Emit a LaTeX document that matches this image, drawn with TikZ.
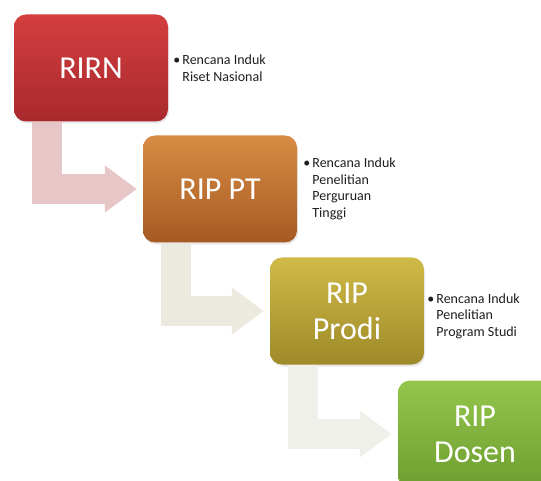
\documentclass[tikz,border=0pt]{standalone}
\usepackage{fontspec}
\setmainfont{Carlito}
\usetikzlibrary{arrows.meta,positioning,calc,shadows}
\definecolor{Ink}{HTML}{1E1E1E}
\definecolor{RedTop}{HTML}{D43E3F}
\definecolor{RedBot}{HTML}{A8292D}
\definecolor{OrgTop}{HTML}{D88C44}
\definecolor{OrgBot}{HTML}{A65A22}
\definecolor{OliTop}{HTML}{CFBA48}
\definecolor{OliBot}{HTML}{9E8A28}
\definecolor{GrnTop}{HTML}{94C64C}
\definecolor{GrnBot}{HTML}{6E9E30}
\definecolor{PinkArr}{HTML}{E7C6C8}
\definecolor{SandArr}{HTML}{ECE9DF}
\definecolor{PaleArr}{HTML}{F0F0EA}
\newcommand{\notebul}{\makebox[9pt][l]{\textbullet}}
\newcommand{\noteind}{\hspace*{9pt}}
\tikzset{
 every node/.style={text=Ink},
 stage/.style={rounded corners=12pt,minimum width=154pt,minimum height=107pt,align=center,
  text=white,font=\fontsize{32}{36}\selectfont,
  drop shadow={opacity=.18,shadow xshift=1pt,shadow yshift=-2pt}},
 note/.style={align=left,font=\fontsize{14}{16.5}\selectfont,inner sep=0pt},
 flow/.style={line width=30pt,-{Triangle[length=32pt,width=45pt]},shorten >=6pt},
}
\begin{document}
\begin{tikzpicture}[x=1pt,y=-1pt]
 \useasboundingbox (0,0) rectangle (541,481);
 \clip (0,0) rectangle (541,481);
 \node[stage,top color=RedTop,bottom color=RedBot](rirn)at(91,68){RIRN};
 \node[stage,top color=OrgTop,bottom color=OrgBot](ript)at(220,189){RIP PT};
 \node[stage,top color=OliTop,bottom color=OliBot](ripprodi)at(347,311){RIP\\Prodi};
 \node[stage,top color=GrnTop,bottom color=GrnBot](ripdosen)at(475,434){RIP\\Dosen};
 \draw[flow,draw=PinkArr]($(rirn.south west)+(33,0)$)|-(ript.west);
 \draw[flow,draw=SandArr]($(ript.south west)+(33,0)$)|-(ripprodi.west);
 \draw[flow,draw=PaleArr]($(ripprodi.south west)+(33,0)$)|-(ripdosen.west);
 \node[note,right=5pt of rirn]{\notebul Rencana Induk\\\noteind Riset Nasional};
 \node[note,right=6pt of ript]{\notebul Rencana Induk\\\noteind Penelitian\\\noteind Perguruan\\\noteind Tinggi};
 \node[note,right=3pt of ripprodi,yshift=-5pt]{\notebul Rencana Induk\\\noteind Penelitian\\\noteind Program Studi};
\end{tikzpicture}
\end{document}
